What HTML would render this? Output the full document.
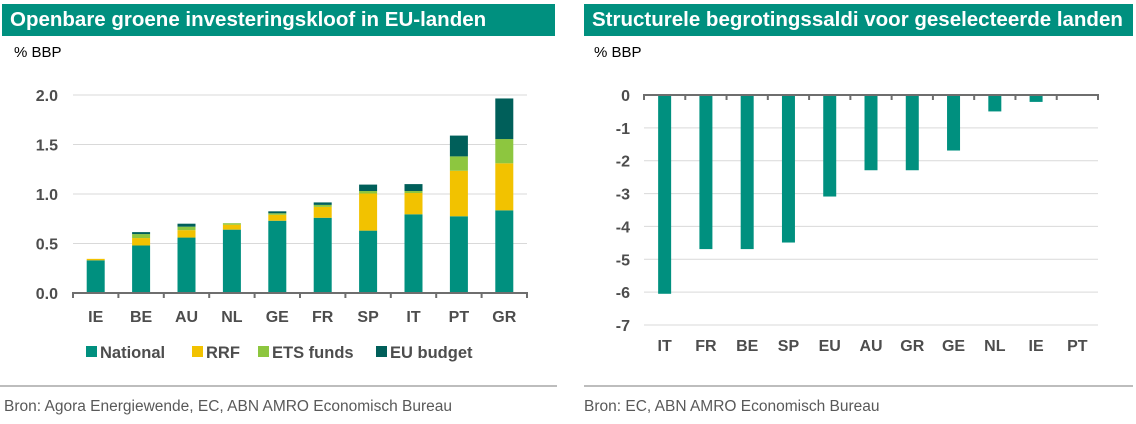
<!DOCTYPE html>
<html><head><meta charset="utf-8"><style>
body{margin:0;width:1136px;height:424px;background:#fff;font-family:"Liberation Sans",Arial,sans-serif;overflow:hidden;position:relative}
.hdr{position:absolute;top:4px;height:32px;background:#00907f;color:#fff;font-weight:bold;font-size:20.5px;line-height:32px;padding-left:8px;box-sizing:border-box;white-space:nowrap}
.unit{position:absolute;top:44px;font-size:15px;color:#000}
.rule{position:absolute;top:385px;height:2px;background:#bdbdbd}
.src{position:absolute;top:398px;font-size:15.5px;color:#595959;white-space:nowrap}
svg{position:absolute;left:0;top:0}
</style></head><body>
<div class="hdr" style="left:2px;width:553px">Openbare groene investeringskloof in EU-landen</div>
<div class="hdr" style="left:584px;width:549px">Structurele begrotingssaldi voor geselecteerde landen</div>
<div class="unit" style="left:14px">% BBP</div>
<div class="unit" style="left:594px">% BBP</div>
<div class="rule" style="left:0;width:557px"></div>
<div class="rule" style="left:584px;width:549px"></div>
<div class="src" style="left:4px">Bron: Agora Energiewende, EC, ABN AMRO Economisch Bureau</div>
<div class="src" style="left:584px">Bron: EC, ABN AMRO Economisch Bureau</div>
<svg id="svg" width="1136" height="424"></svg>
<script>
const catsL=["IE","BE","AU","NL","GE","FR","SP","IT","PT","GR"];
const national=[0.33,0.48,0.56,0.64,0.73,0.76,0.63,0.795,0.775,0.835];
const rrf=[0.015,0.075,0.075,0.05,0.06,0.11,0.375,0.215,0.46,0.475];
const ets=[0,0.04,0.035,0.015,0.015,0.02,0.025,0.02,0.145,0.245];
const eubudget=[0,0.02,0.03,0,0.02,0.025,0.065,0.07,0.21,0.41];
const ticksL=[0,0.5,1.0,1.5,2.0];
const catsR=["IT","FR","BE","SP","EU","AU","GR","GE","NL","IE","PT"];
const saldo=[-6.05,-4.69,-4.69,-4.49,-3.09,-2.29,-2.29,-1.69,-0.5,-0.21,0];
const ticksR=[0,-1,-2,-3,-4,-5,-6,-7];

const svg=document.getElementById('svg');
const NS='http://www.w3.org/2000/svg';
function mk(t,a){const e=document.createElementNS(NS,t);for(const k in a)e.setAttribute(k,a[k]);svg.appendChild(e);return e;}
const FONT='"Liberation Sans",Arial,sans-serif';
// Left chart
const lx0=73,lx1=527,ly0=293,ly1=95;
const yL=v=>ly0-(v/2.0)*(ly0-ly1);
const bwL=(lx1-lx0)/catsL.length;
const xL=i=>lx0+bwL*(i+0.5);
ticksL.forEach(t=>{
  if(t>0){const g=mk('line',{x1:lx0,x2:lx1,y1:yL(t),y2:yL(t),stroke:'#d9d9d9','stroke-width':1});
  }
  const tx=mk('text',{x:58,y:yL(t)+6,'text-anchor':'end','font-size':16,'font-weight':'bold',fill:'#4d4d4d','font-family':FONT});
  tx.textContent=t.toFixed(1);
  
});
const series=[[national,'#00907f','national'],[rrf,'#f2c200','rrf'],[ets,'#8dc63f','ets-funds'],[eubudget,'#005f5a','eu-budget']];
catsL.forEach((c,i)=>{
  let base=0;
  series.forEach(([arr,col,nm])=>{
    const v=arr[i];if(v<=0)return;
    const r=mk('rect',{x:xL(i)-9,y:yL(base+v),width:18,height:yL(base)-yL(base+v),fill:col});
    
    base+=v;
  });
  const t=mk('text',{x:xL(i),y:322,'text-anchor':'middle','font-size':16,'font-weight':'bold',fill:'#4d4d4d','font-family':FONT});
  t.textContent=c;
});
const axL=mk('line',{x1:lx0-1,x2:lx1+1,y1:ly0,y2:ly0,stroke:'#6e6e6e','stroke-width':2});

for(let i=0;i<=catsL.length;i++){const tk=mk('line',{x1:lx0+bwL*i,x2:lx0+bwL*i,y1:ly0,y2:ly0+5,stroke:'#6e6e6e','stroke-width':2});
}
// legend
const leg=[['National','#00907f',86],['RRF','#f2c200',192],['ETS funds','#8dc63f',258],['EU budget','#005f5a',376]];
leg.forEach(([lab,col,x])=>{
  const r=mk('rect',{x:x,y:346,width:11,height:11,fill:col});
  
  const t=mk('text',{x:x+14,y:358,'font-size':16.5,'font-weight':'bold',fill:'#4d4d4d','font-family':FONT});
  t.textContent=lab;
});
// Right chart
const rx0=644,rx1=1098,ry0=95,ry7=325;
const yR=v=>ry0+(-v/7)*(ry7-ry0);
const bwR=(rx1-rx0)/catsR.length;
const xR=i=>rx0+bwR*(i+0.5);
ticksR.forEach(t=>{
  if(t<0){const g=mk('line',{x1:rx0,x2:rx1,y1:yR(t),y2:yR(t),stroke:'#d9d9d9','stroke-width':1});
  }
  const tx=mk('text',{x:630,y:yR(t)+6,'text-anchor':'end','font-size':16,'font-weight':'bold',fill:'#4d4d4d','font-family':FONT});
  tx.textContent=String(t);
});
catsR.forEach((c,i)=>{
  const v=saldo[i];
  if(v!==0){const r=mk('rect',{x:xR(i)-6.5,y:yR(0),width:13,height:yR(v)-yR(0),fill:'#00907f'});
  }
  const t=mk('text',{x:xR(i),y:351,'text-anchor':'middle','font-size':16,'font-weight':'bold',fill:'#4d4d4d','font-family':FONT});
  t.textContent=c;
});
const axR=mk('line',{x1:rx0-1,x2:rx1+1,y1:ry0,y2:ry0,stroke:'#6e6e6e','stroke-width':2});

for(let i=0;i<=catsR.length;i++){const tk=mk('line',{x1:rx0+bwR*i,x2:rx0+bwR*i,y1:ry0,y2:ry0+5,stroke:'#6e6e6e','stroke-width':2});
}
</script>
</body></html>
